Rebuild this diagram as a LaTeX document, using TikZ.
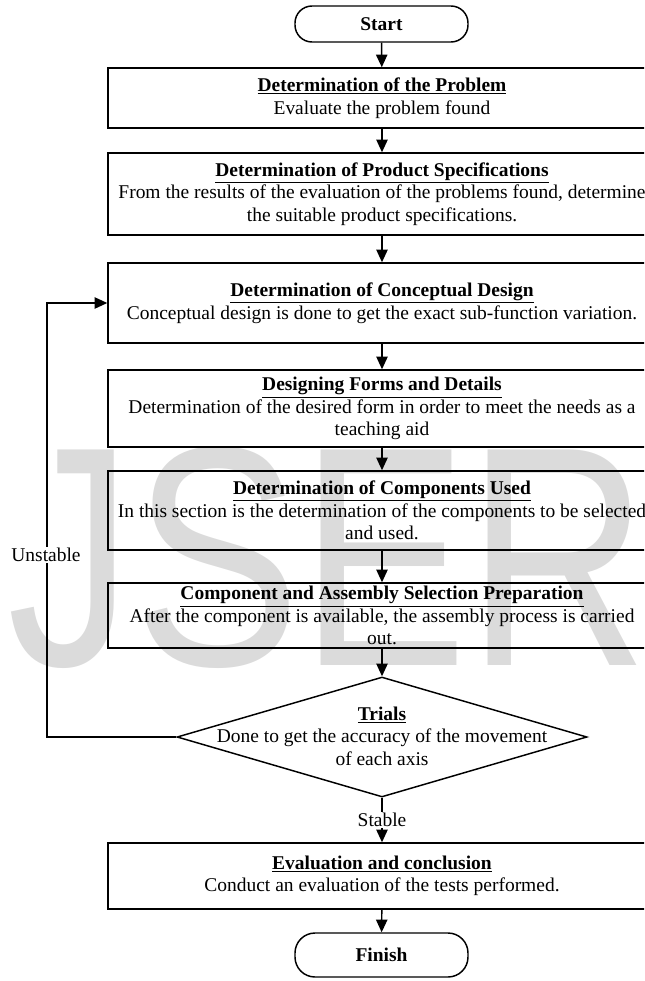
\documentclass[tikz,border=0pt]{standalone}
\usepackage{fontspec}
\setmainfont{Liberation Serif}
\newfontfamily\wmfont{Liberation Sans}
\usetikzlibrary{arrows.meta,shapes.geometric}
\newcommand\tf{\fontsize{14.6pt}{16.9pt}\selectfont}
\newcommand\ttl[1]{\underline{\textbf{#1}}}
\begin{document}
\begin{tikzpicture}[x=0.75pt,y=-0.75pt,
  every node/.style={font=\tf},
  box/.style={draw,line width=1.1pt,minimum width=548*0.75pt,align=center,inner sep=0pt},
  term/.style={draw,line width=1.1pt,rounded corners=17*0.75pt,minimum width=173*0.75pt,minimum height=36*0.75pt,font=\tf\bfseries,inner sep=0pt},
  arr/.style={line width=1.1pt,-{Triangle[length=9.5pt,width=8.5pt]}},
  lbl/.style={fill=white,inner sep=1pt},
  wm/.style={text=black!14,font=\wmfont\fontsize{235pt}{235pt}\selectfont,inner sep=0pt}]
\useasboundingbox (0,0) rectangle (644,981);
\begin{scope}
\clip (0,0) rectangle (644,981);
\node[wm,anchor=base west] (wmark) at (-62,665) {\scalebox{0.8}[1]{IJSER}};
\node[term] (start) at (381.5,24) {Start};
\node[box,minimum height=60*0.75pt] (b1) at (382,98) {\ttl{Determination of the Problem}\\Evaluate the problem found};
\node[box,minimum height=82*0.75pt] (b2) at (382,194) {\ttl{Determination of Product Specifications}\\From the results of the evaluation of the problems found, determine\\the suitable product specifications.};
\node[box,minimum height=80*0.75pt] (b3) at (382,303) {\ttl{Determination of Conceptual Design}\\Conceptual design is done to get the exact sub-function variation.};
\node[box,minimum height=77*0.75pt] (b4) at (382,408.5) {\ttl{Designing Forms and Details}\\Determination of the desired form in order to meet the needs as a\\teaching aid};
\node[box,minimum height=79*0.75pt] (b5) at (382,510.5) {\ttl{Determination of Components Used}\\In this section is the determination of the components to be selected\\and used.};
\node[box,minimum height=65*0.75pt,text depth=0pt] (b6) at (382,615.5) {\ttl{Component and Assembly Selection Preparation}\\After the component is available, the assembly process is carried\\out.};
\node[diamond,draw,line width=1.1pt,minimum width=410*0.75pt,minimum height=120*0.75pt,inner sep=0pt] (trials) at (382,737) {};
\node[align=center] (trialstext) at (382,736) {\ttl{Trials}\\Done to get the accuracy of the movement\\of each axis};
\node[box,minimum height=66*0.75pt] (b7) at (382,876) {\ttl{Evaluation and conclusion}\\Conduct an evaluation of the tests performed.};
\node[term,minimum height=44*0.75pt,rounded corners=20*0.75pt] (finish) at (381.5,955) {Finish};
\draw[arr] (start) -- (b1);
\draw[arr] (b1) -- (b2);
\draw[arr] (b2) -- (b3);
\draw[arr] (b3) -- (b4);
\draw[arr] (b4) -- (b5);
\draw[arr] (b5) -- (b6);
\draw[arr] (b6) -- (trials.north);
\draw[arr] (trials.south) -- node[lbl] (stable) {Stable} (b7);
\draw[arr] (b7) -- (finish);
\coordinate (lp) at (47,737);
\draw[arr] (trials.west) -- (lp) |- (b3.west);
\node[lbl] (unstable) at (46,555) {Unstable};
\end{scope}
\end{tikzpicture}
\end{document}
